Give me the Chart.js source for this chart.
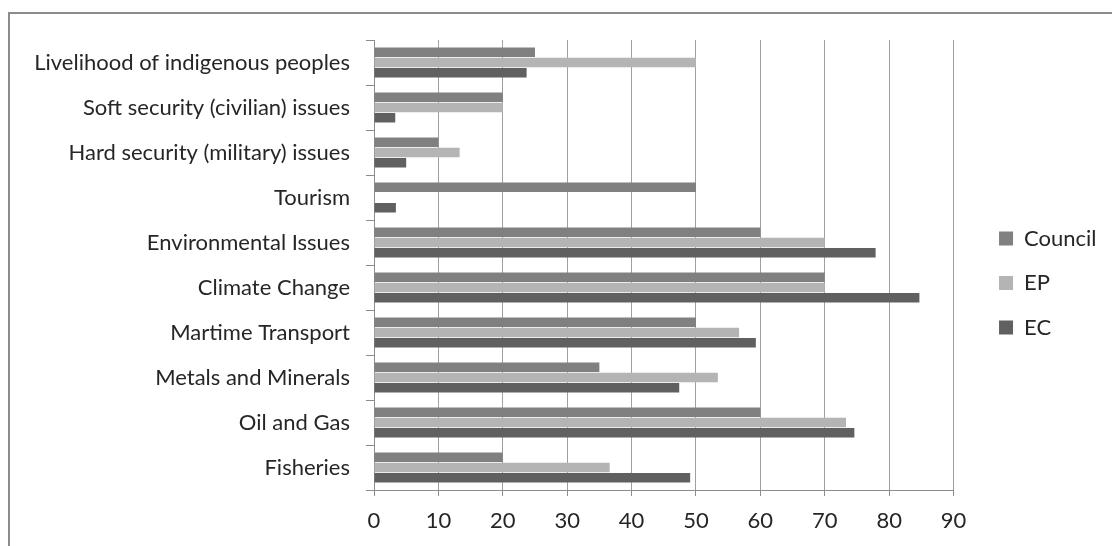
<!DOCTYPE html>
<html>
<head>
<meta charset="utf-8">
<script src="https://cdn.jsdelivr.net/npm/chart.js@4.4.1/dist/chart.umd.min.js"></script>
<style>
  html, body { margin: 0; padding: 0; background: #fff; }
  #wrap { position: relative; width: 1112px; height: 546px; overflow: hidden; }
  #frame { position: absolute; left: 8px; top: 12px; width: 1300px; height: 700px;
           border-left: 2px solid #8c8c8c; border-top: 2px solid #8c8c8c; }
  canvas { position: absolute; left: 0; top: 0; }
</style>
</head>
<body>
<div id="wrap">
  <div id="frame"></div>
  <canvas id="c" width="1112" height="546"></canvas>
</div>
<script>
// Policy areas, listed top to bottom
const categories = [
  'Livelihood of indigenous peoples',
  'Soft security (civilian) issues',
  'Hard security (military) issues',
  'Tourism',
  'Environmental Issues',
  'Climate Change',
  'Martime Transport',
  'Metals and Minerals',
  'Oil and Gas',
  'Fisheries'
];

// Share per institution
const council = [25, 20, 10, 50, 60, 70, 50, 35, 60, 20];
const ep      = [50, 20, 13.3, 0, 70, 70, 56.7, 53.4, 73.3, 36.6];
const ec      = [23.7, 3.3, 5, 3.4, 77.9, 84.7, 59.3, 47.4, 74.6, 49.1];

const xTicks = [0, 10, 20, 30, 40, 50, 60, 70, 80, 90];

const FONT = { family: 'Lato, "DejaVu Sans", sans-serif', size: 22 };
const TEXT = '#262626';
const AXIS = '#8c8c8c';

// Empty spacer axis: reserves room without drawing anything
const spacer = (axis, position, size) => ({
  type: 'linear',
  axis,
  position,
  grid: { display: false },
  border: { display: false },
  ticks: { display: false },
  afterFit: s => { if (axis === 'x') s.height = size; else s.width = size; }
});

new Chart(document.getElementById('c'), {
  type: 'bar',
  data: {
    labels: categories,
    datasets: [
      { label: 'Council', data: council, backgroundColor: '#808080' },
      { label: 'EP',      data: ep,      backgroundColor: '#b4b4b4' },
      { label: 'EC',      data: ec,      backgroundColor: '#606060' }
    ]
  },
  options: {
    indexAxis: 'y',
    responsive: false,
    animation: false,
    devicePixelRatio: 1,
    categoryPercentage: 0.68,
    barPercentage: 0.92,
    layout: { padding: { top: 20, left: 0, right: 5.5, bottom: 0 } },
    plugins: {
      tooltip: { enabled: false },
      legend: {
        position: 'right',
        align: 'center',
        labels: {
          boxWidth: 14,
          boxHeight: 14,
          padding: 22.5,
          font: FONT,
          color: TEXT
        }
      }
    },
    scales: {
      x: {
        position: 'bottom',
        min: 0,
        max: 90,
        afterBuildTicks: s => { s.ticks = xTicks.map(v => ({ value: v })); },
        afterFit: s => { s.height = 56; },
        grid: { color: '#a0a0a0', lineWidth: 1, tickLength: 6, tickColor: AXIS },
        border: { color: AXIS, width: 1 },
        ticks: { font: FONT, color: TEXT, padding: 12, maxRotation: 0 }
      },
      y: {
        type: 'category',
        position: 'left',
        afterFit: s => { s.width = 374; },
        grid: { drawOnChartArea: false, offset: true, tickLength: 8, color: AXIS },
        border: { color: AXIS, width: 1 },
        ticks: { font: FONT, color: TEXT, padding: 16, autoSkip: false }
      },
      gapTop: spacer('x', 'top', 20),
      gapRight: spacer('y', 'right', 23)
    }
  }
});
</script>
</body>
</html>
